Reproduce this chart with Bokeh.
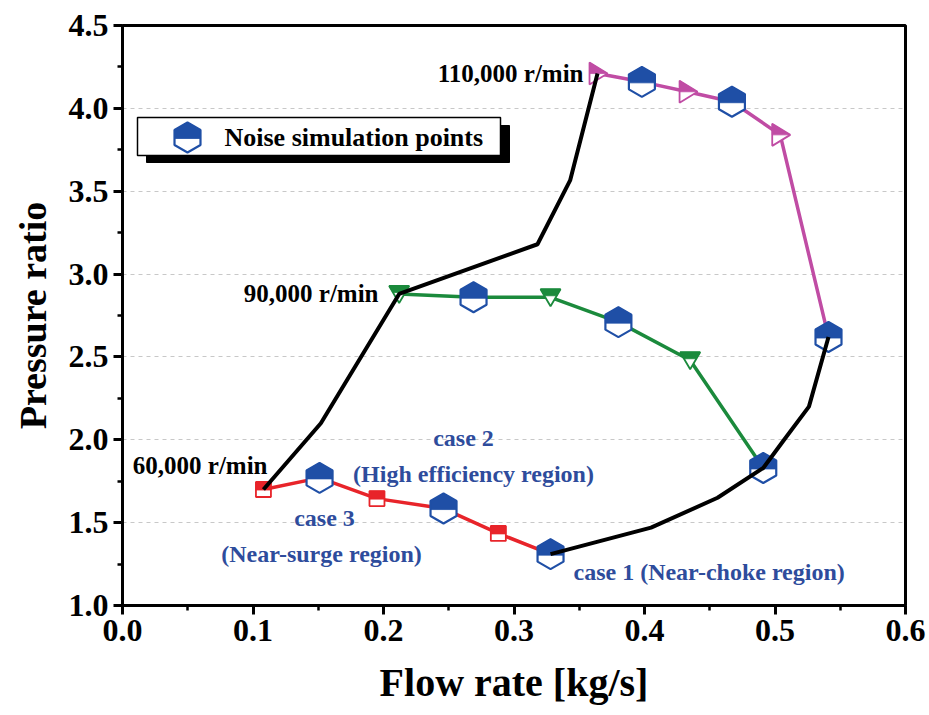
import math
from bokeh.plotting import figure
from bokeh.models import Range1d, FixedTicker, Label, BoxAnnotation, CustomJSTickFormatter
from bokeh.embed import file_html
from bokeh.resources import INLINE

# ---------------- data ----------------
flow_60k = [0.108, 0.151, 0.195, 0.246, 0.288, 0.328]
pr_60k = [1.70, 1.77, 1.645, 1.585, 1.435, 1.31]

flow_90k = [0.212, 0.269, 0.328, 0.380, 0.435, 0.491]
pr_90k = [2.88, 2.86, 2.86, 2.71, 2.48, 1.83]

flow_110k = [0.364, 0.398, 0.433, 0.467, 0.504, 0.541]
pr_110k = [4.21, 4.16, 4.10, 4.04, 3.84, 2.62]

surge_flow = [0.108, 0.152, 0.212, 0.318, 0.343, 0.364]
surge_pr = [1.70, 2.10, 2.88, 3.18, 3.565, 4.21]

choke_flow = [0.328, 0.405, 0.456, 0.491, 0.507, 0.526, 0.541]
choke_pr = [1.31, 1.47, 1.65, 1.83, 2.00, 2.20, 2.62]

speed_idx = [0, 2, 4]   # measured speed-line points
noise_idx = [1, 3, 5]   # noise simulation points

x_ticks = [0.0, 0.1, 0.2, 0.3, 0.4, 0.5, 0.6]
y_ticks = [1.0, 1.5, 2.0, 2.5, 3.0, 3.5, 4.0, 4.5]

# ---------------- style ----------------
FONT = "Liberation Serif"
RED = "#e8242a"
GREEN = "#1b8a3c"
MAGENTA = "#c04ca4"
HEXBLUE = "#1f4fa6"
TXTBLUE = "#2e4c9c"

FW, FH = 783, 580
X0, X1 = 0.0, 0.6
Y0, Y1 = 1.0, 4.5
SX = (X1 - X0) / FW
SY = (Y1 - Y0) / FH


def clip_above(poly, c):
    out = []
    n = len(poly)
    for i in range(n):
        p1, p2 = poly[i], poly[(i + 1) % n]
        in1, in2 = p1[1] >= c, p2[1] >= c
        if in1:
            out.append(p1)
        if in1 != in2:
            t = (c - p1[1]) / (p2[1] - p1[1])
            out.append((p1[0] + t * (p2[0] - p1[0]), c))
    return out


def place(shape, xs, ys):
    px = [[x + dx * SX for dx, dy in shape] for x in xs]
    py = [[y + dy * SY for dx, dy in shape] for y in ys]
    return px, py


R = 15.0
HW = R * math.sqrt(3) / 2
HEX = [(0, R), (HW, R / 2), (HW, -R / 2), (0, -R), (-HW, -R / 2), (-HW, R / 2)]
SQUARE = [(-7.5, 7.5), (7.5, 7.5), (7.5, -7.5), (-7.5, -7.5)]
TRI_DOWN = [(-10, 8), (10, 8), (0, -9)]
TRI_RIGHT = [(-8, 11), (10, 0), (-8, -11)]


def half_marker(p, shape, cut, xs, ys, color, lw=1.8, level="glyph"):
    ox, oy = place(shape, xs, ys)
    p.patches(ox, oy, fill_color="white", line_color=color, line_width=lw, level=level)
    hx, hy = place(clip_above(shape, cut), xs, ys)
    p.patches(hx, hy, fill_color=color, line_color=color, line_width=0.8, level=level)


p = figure(frame_width=FW, frame_height=FH,
           x_range=Range1d(X0, X1), y_range=Range1d(Y0, Y1),
           output_backend="svg", toolbar_location=None,
           min_border_left=122, min_border_right=24,
           min_border_top=25, min_border_bottom=110,
           background_fill_color="white", border_fill_color="white")

p.outline_line_color = "black"
p.outline_line_width = 3
p.xgrid.visible = False
p.ygrid.grid_line_color = "#c8c8c8"
p.ygrid.grid_line_dash = "4 4"
p.ygrid.grid_line_width = 1

p.xaxis.ticker = FixedTicker(ticks=x_ticks,
                             minor_ticks=[0.05 + 0.1 * i for i in range(6)])
p.yaxis.ticker = FixedTicker(ticks=y_ticks,
                             minor_ticks=[1.25 + 0.5 * i for i in range(7)])
for ax in (p.xaxis, p.yaxis):
    ax.axis_line_width = 3
    ax.axis_line_color = "black"
    ax.major_tick_line_width = 3
    ax.minor_tick_line_width = 2.5
    ax.major_tick_out = 9
    ax.major_tick_in = 0
    ax.minor_tick_out = 5
    ax.minor_tick_in = 0
    ax.major_label_text_font = FONT
    ax.major_label_text_font_style = "bold"
    ax.major_label_text_font_size = "32px"
    ax.major_label_text_color = "black"
    ax.axis_label_text_font = FONT
    ax.axis_label_text_font_style = "bold"
    ax.axis_label_text_color = "black"
    ax.formatter = CustomJSTickFormatter(code="return tick.toFixed(1);")

p.xaxis.axis_label = "Flow rate [kg/s]"
p.yaxis.axis_label = "Pressure ratio"
p.xaxis.axis_label_text_font_size = "40px"
p.yaxis.axis_label_text_font_size = "38px"
p.xaxis.major_label_standoff = 5
p.yaxis.major_label_standoff = 5
p.xaxis.axis_label_standoff = 16
p.yaxis.axis_label_standoff = 12

# speed lines
p.line(flow_60k, pr_60k, line_color=RED, line_width=3.5)
p.line(flow_90k, pr_90k, line_color=GREEN, line_width=3.5)
p.line(flow_110k, pr_110k, line_color=MAGENTA, line_width=3.5)

# speed line markers
half_marker(p, SQUARE, -0.5, [flow_60k[i] for i in speed_idx],
            [pr_60k[i] for i in speed_idx], RED)
half_marker(p, TRI_DOWN, 1.5, [flow_90k[i] for i in speed_idx],
            [pr_90k[i] for i in speed_idx], GREEN)
half_marker(p, TRI_RIGHT, 0.0, [flow_110k[i] for i in speed_idx],
            [pr_110k[i] for i in speed_idx], MAGENTA)

# noise simulation points
nx = [s[i] for s in (flow_60k, flow_90k, flow_110k) for i in noise_idx]
ny = [s[i] for s in (pr_60k, pr_90k, pr_110k) for i in noise_idx]
half_marker(p, HEX, -1.0, nx, ny, HEXBLUE, lw=2.2)

# surge & choke lines
p.line(surge_flow, surge_pr, line_color="black", line_width=4)
p.line(choke_flow, choke_pr, line_color="black", line_width=4)


# ---------------- legend (drawn manually, with shadow) ----------------
def dx(px):
    return X0 + (px - 122) * SX


def dy(py):
    return Y0 + (605 - py) * SY


p.add_layout(BoxAnnotation(left=dx(146), right=dx(509), top=dy(125), bottom=dy(162),
                           fill_color="black", fill_alpha=1, line_color="black",
                           line_alpha=1))
p.add_layout(BoxAnnotation(left=dx(137), right=dx(500), top=dy(117), bottom=dy(155),
                           fill_color="white", fill_alpha=1, line_color="black",
                           line_alpha=1, line_width=1.5))
half_marker(p, HEX, -1.0, [dx(187)], [dy(137)], HEXBLUE, lw=2.2, level="overlay")
p.add_layout(Label(x=dx(224), y=dy(137), text="Noise simulation points",
                   text_font=FONT, text_font_style="bold", text_font_size="26px",
                   text_color="black", text_baseline="middle", text_align="left"))


# ---------------- annotations ----------------
def lab(x, y, text, color="black", align="center", size="24px"):
    p.add_layout(Label(x=x, y=y, text=text, text_font=FONT, text_font_style="bold",
                       text_font_size=size, text_color=color,
                       text_baseline="middle", text_align=align))


lab(dx(583), dy(73), "110,000 r/min", align="right", size="25px")
lab(dx(378), dy(293), "90,000 r/min", align="right", size="25px")
lab(dx(267), dy(465), "60,000 r/min", align="right", size="25px")
lab(dx(463), dy(437), "case 2", TXTBLUE)
lab(dx(473), dy(473), "(High efficiency region)", TXTBLUE)
lab(dx(324), dy(517), "case 3", TXTBLUE)
lab(dx(321), dy(553), "(Near-surge region)", TXTBLUE)
lab(dx(573), dy(571), "case 1 (Near-choke region)", TXTBLUE, align="left")

open("out.html", "w").write(file_html(p, INLINE))
